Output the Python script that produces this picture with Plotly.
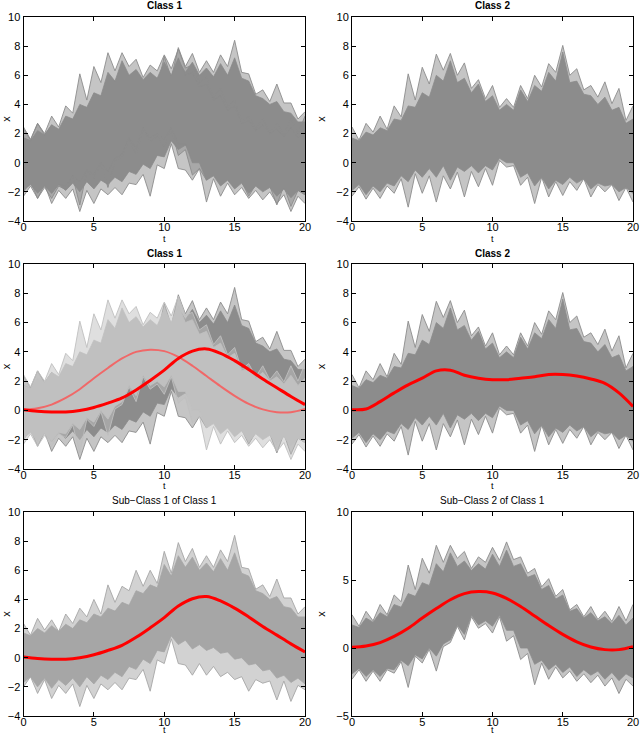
import plotly.graph_objects as go

# ── Data ─────────────────────────────────────────────────────────────────────
T = [0, 0.5, 1, 1.5, 2, 2.5, 3, 3.5, 4, 4.5, 5, 5.5, 6, 6.5, 7, 7.5, 8, 8.5, 9, 9.5,
     10, 10.5, 11, 11.5, 12, 12.5, 13, 13.5, 14, 14.5, 15, 15.5, 16, 16.5, 17, 17.5,
     18, 18.5, 19, 19.5, 20]
T_MEAN = [0, 1, 2, 3, 4, 5, 6, 7, 8, 9, 10, 11, 12, 13, 14, 15, 16, 17, 18, 19, 20]

# Sub-class 1 of class 1
SC1_UP_OUT = [2.35, 1.55, 2.7, 1.9, 2.6, 1.8, 3.0, 2.35, 3.4, 2.8, 4.0, 3.0, 5.0, 3.8, 4.9, 4.6,
              6.0, 4.9, 6.0, 5.1, 7.3, 5.8, 7.9, 6.6, 7.5, 6.2, 7.0, 6.2, 7.4, 6.6, 8.4, 6.2,
              6.1, 4.7, 5.0, 4.2, 5.4, 4.1, 4.1, 3.0, 3.5]
SC1_UP_CORE = [1.7, 1.5, 2.0, 1.7, 2.2, 1.8, 2.3, 2.0, 2.6, 2.4, 3.0, 2.8, 3.4, 3.2, 3.8, 3.6,
               4.6, 4.4, 5.0, 4.8, 6.4, 5.6, 7.0, 6.2, 6.9, 6.0, 6.5, 5.9, 6.8, 6.0, 7.2, 5.8,
               5.6, 4.6, 4.4, 4.0, 4.2, 3.5, 3.4, 2.8, 2.8]
SC1_LO_CORE = [-1.7, -1.3, -2.0, -1.4, -2.1, -1.5, -1.9, -1.4, -2.0, -1.3, -1.8, -1.2, -1.5, -1.0,
               -1.3, -0.6, -0.8, -0.1, -0.4, 0.5, 0.4, 1.5, 0.9, 1.2, 0.6, 0.9, 0.5, 0.7, 0.3,
               0.4, -0.1, 0.0, -0.5, -0.4, -0.9, -0.8, -1.4, -1.2, -1.7, -1.4, -1.8]
SC1_LO_OUT = [-2.0, -1.3, -2.45, -1.5, -2.8, -1.9, -2.45, -1.8, -3.35, -1.9, -2.8, -1.8, -2.2, -1.7,
              -2.2, -1.4, -1.5, -0.8, -2.3, -0.15, -0.4, 1.3, -0.4, -0.5, -1.2, -0.4, -1.2, -0.6,
              -1.3, -1.0, -1.5, -1.3, -2.3, -1.5, -1.75, -1.6, -2.9, -1.6, -3.0, -1.9, -2.2]
SC1_MEAN = [0.05, -0.05, -0.1, -0.1, 0.0, 0.2, 0.5, 0.85, 1.4, 2.05, 2.75, 3.55, 4.05, 4.2,
            3.9, 3.4, 2.8, 2.15, 1.55, 0.95, 0.4]

# Sub-class 2 of class 1
SC2_UP_OUT = [2.45, 1.6, 2.7, 2.0, 3.2, 2.45, 3.9, 3.4, 6.1, 4.3, 6.6, 5.5, 7.55, 6.3, 7.55, 6.6,
              7.1, 5.85, 6.7, 6.3, 7.4, 6.45, 7.8, 6.5, 6.7, 5.5, 5.85, 4.5, 5.1, 3.8, 4.3, 2.8,
              3.2, 2.3, 3.05, 2.1, 2.7, 1.95, 3.05, 2.0, 3.2]
SC2_UP_CORE = [1.7, 1.5, 2.2, 1.9, 2.6, 2.3, 3.2, 3.0, 4.0, 3.8, 4.8, 4.6, 6.2, 5.6, 7.0, 6.0,
               6.4, 5.7, 6.2, 5.8, 6.9, 6.0, 7.2, 6.0, 6.2, 5.2, 5.4, 4.3, 4.6, 3.6, 3.9, 2.7,
               2.9, 2.2, 2.6, 2.0, 2.3, 1.8, 2.4, 1.7, 2.2]
SC2_LO_CORE = [-1.9, -1.5, -2.1, -1.6, -2.1, -1.5, -1.6, -0.9, -1.3, -0.5, -0.8, 0.0, -0.6, 0.3,
               0.6, 1.7, 1.0, 2.4, 1.7, 2.0, 1.6, 2.4, 1.3, 1.3, 0.0, 0.0, -1.2, -0.9, -1.6,
               -1.2, -1.8, -1.4, -2.1, -1.6, -2.0, -1.7, -2.3, -1.8, -2.4, -1.9, -2.2]
SC2_LO_OUT = [-2.3, -1.6, -2.45, -1.7, -2.45, -1.6, -1.85, -1.0, -2.9, -0.6, -1.1, -0.1, -1.7, 0.1,
              0.4, 1.6, 0.6, 2.3, 1.45, 1.8, 1.1, 2.3, 0.5, 0.9, -0.85, -0.4, -2.7, -1.1, -2.3,
              -1.4, -2.2, -1.7, -2.45, -1.9, -2.55, -2.0, -2.8, -2.2, -3.35, -2.3, -2.8]
SC2_MEAN = [0.05, 0.15, 0.4, 0.85, 1.45, 2.2, 2.9, 3.55, 4.0, 4.15, 4.05, 3.65, 3.05, 2.35,
            1.65, 1.0, 0.45, 0.07, -0.12, -0.12, 0.1]

# Class 2
C2_UP_OUT = [2.45, 1.55, 2.7, 2.1, 3.2, 2.3, 3.9, 3.15, 6.1, 4.3, 6.55, 5.4, 7.45, 6.35, 7.5, 6.0,
             6.85, 5.1, 5.7, 4.4, 5.3, 3.8, 4.4, 3.8, 5.3, 4.4, 6.0, 5.2, 6.8, 6.2, 8.05, 6.0,
             6.45, 5.0, 5.3, 4.5, 5.55, 4.05, 5.1, 2.9, 3.9]
C2_UP_CORE = [1.7, 1.5, 2.1, 1.9, 2.4, 2.2, 3.0, 2.9, 3.9, 3.8, 4.8, 4.5, 6.0, 5.6, 7.0, 5.5,
              5.8, 4.8, 5.4, 4.2, 4.6, 3.6, 4.0, 3.6, 5.0, 4.2, 5.3, 4.9, 6.2, 5.6, 7.6, 5.5,
              5.6, 4.7, 4.6, 4.0, 4.5, 3.6, 3.8, 2.7, 3.0]
C2_LO_CORE = [-1.9, -1.5, -2.2, -1.6, -2.0, -1.4, -1.6, -0.9, -1.3, -0.5, -1.0, -0.4, -1.0, -0.2,
              -1.2, -0.3, -0.6, -0.2, -0.7, -0.2, -0.5, 0.3, 0.0, 0.0, -1.0, -0.7, -1.6, -1.0,
              -1.8, -1.2, -1.5, -1.0, -1.4, -1.1, -1.8, -1.4, -1.6, -1.5, -2.0, -1.7, -2.1]
C2_LO_OUT = [-2.3, -1.65, -2.5, -1.75, -2.45, -1.6, -2.1, -1.1, -3.05, -0.75, -2.1, -0.9, -2.7, -0.9,
             -1.8, -0.65, -2.35, -0.6, -1.65, -0.4, -1.55, 0.15, -0.3, -0.2, -1.55, -1.0, -2.8,
             -1.0, -2.35, -1.3, -2.25, -1.3, -1.9, -1.1, -2.35, -1.5, -2.0, -1.5, -2.6, -1.7, -2.7]
C2_MEAN = [0.05, 0.1, 0.6, 1.2, 1.75, 2.2, 2.7, 2.75, 2.4, 2.2, 2.1, 2.1, 2.2, 2.3, 2.45, 2.45,
           2.35, 2.15, 1.85, 1.2, 0.27]

TITLES = ["Class 1", "Class 2", "Class 1", "Class 2",
          "Sub\u2212Class 1 of Class 1", "Sub\u2212Class 2 of Class 1"]

# ── Style ────────────────────────────────────────────────────────────────────
GRAY = (140, 140, 140)
LIGHT = (192, 192, 192)
MID = (166, 166, 166)
RED = "#ff0000"
SALMON = "#f06868"
FONT = "Liberation Sans"

W, H = 640, 735
XDOM = {"L": [23.5 / W, 305 / W], "R": [352 / W, 633 / W]}
YDOM = {0: [1 - 221 / H, 1 - 17 / H], 1: [1 - 469 / H, 1 - 264 / H], 2: [1 - 716 / H, 1 - 512 / H]}

fig = go.Figure()


def rgb(c, a=1.0):
    return f"rgba({c[0]},{c[1]},{c[2]},{a})"


def ax(n):
    return ("x", "y") if n == 1 else (f"x{n}", f"y{n}")


def add_group(n, up_core, lo_core, up_out, lo_out, color):
    xa, ya = ax(n)
    # sparse fringe of outlying curves: translucent band up to the outer envelope
    fig.add_trace(go.Scatter(
        x=T + T[::-1], y=up_out + lo_out[::-1], mode="lines",
        fill="toself", fillcolor=rgb(color, 0.5), line=dict(width=0),
        xaxis=xa, yaxis=ya, hoverinfo="skip"))
    # dense core
    fig.add_trace(go.Scatter(
        x=T + T[::-1], y=up_core + lo_core[::-1], mode="lines",
        fill="toself", fillcolor=rgb(color), line=dict(color=rgb(color), width=0.8),
        xaxis=xa, yaxis=ya, hoverinfo="skip"))
    for arr in (up_out, lo_out):
        fig.add_trace(go.Scatter(
            x=T, y=arr, mode="lines", line=dict(color=rgb(color), width=0.9),
            xaxis=xa, yaxis=ya, hoverinfo="skip"))


def add_mean(n, arr, color, width):
    xa, ya = ax(n)
    fig.add_trace(go.Scatter(
        x=T_MEAN, y=arr, mode="lines", line=dict(color=color, width=width, shape="spline"),
        xaxis=xa, yaxis=ya, hoverinfo="skip"))


# Panel 1: class 1 (both sub-classes, same gray)
add_group(1, SC1_UP_CORE, SC1_LO_CORE, SC1_UP_OUT, SC1_LO_OUT, GRAY)
add_group(1, SC2_UP_CORE, SC2_LO_CORE, SC2_UP_OUT, SC2_LO_OUT, GRAY)
# Panel 2: class 2
add_group(2, C2_UP_CORE, C2_LO_CORE, C2_UP_OUT, C2_LO_OUT, GRAY)
# Panel 3: class 1 split into sub-classes
add_group(3, SC1_UP_CORE, SC1_LO_CORE, SC1_UP_OUT, SC1_LO_OUT, GRAY)
add_group(3, SC2_UP_CORE, SC2_LO_CORE, SC2_UP_OUT, SC2_LO_OUT, LIGHT)
add_mean(3, SC2_MEAN, SALMON, 2)
add_mean(3, SC1_MEAN, RED, 3)
# Panel 4: class 2 with mean
add_group(4, C2_UP_CORE, C2_LO_CORE, C2_UP_OUT, C2_LO_OUT, GRAY)
add_mean(4, C2_MEAN, RED, 3)
# Panel 5: sub-class 1
add_group(5, SC1_UP_CORE, SC1_LO_CORE, SC1_UP_OUT, SC1_LO_OUT, MID)
add_mean(5, SC1_MEAN, RED, 3)
# Panel 6: sub-class 2
add_group(6, SC2_UP_CORE, SC2_LO_CORE, SC2_UP_OUT, SC2_LO_OUT, GRAY)
add_mean(6, SC2_MEAN, RED, 3)

# ── Axes ─────────────────────────────────────────────────────────────────────
layout = {}
for n in range(1, 7):
    row = (n - 1) // 2
    side = "L" if n % 2 == 1 else "R"
    xa, ya = ax(n)
    xkey = "xaxis" if n == 1 else f"xaxis{n}"
    ykey = "yaxis" if n == 1 else f"yaxis{n}"
    if n == 6:
        yrange, yticks = [-5, 10], [-5, 0, 5, 10]
    else:
        yrange, yticks = [-4, 10], [-4, -2, 0, 2, 4, 6, 8, 10]
    common = dict(showline=True, linecolor="black", linewidth=1, mirror="ticks",
                  ticks="inside", ticklen=4, tickcolor="black", showgrid=False,
                  zeroline=False, automargin=False, ticklabeloverflow="allow",
                  tickfont=dict(family=FONT, size=11, color="black"))
    layout[xkey] = dict(domain=XDOM[side], anchor=ya, range=[0, 20],
                        tickvals=[0, 5, 10, 15, 20], ticklabelstandoff=-4, **common)
    layout[ykey] = dict(domain=YDOM[row], anchor=xa, range=yrange, tickvals=yticks,
                        title=dict(text="x", standoff=8, font=dict(family=FONT, size=11)),
                        **common)

fig.update_layout(**layout)

title_y = {0: 1 - 6 / H, 1: 1 - 253 / H, 2: 1 - 501 / H}
t_label_y = {0: 1 - 239 / H, 1: 1 - 486 / H, 2: 1 - 730 / H}
for i, txt in enumerate(TITLES):
    row = i // 2
    xd = XDOM["L" if i % 2 == 0 else "R"]
    xc = (xd[0] + xd[1]) / 2
    fig.add_annotation(
        x=xc, y=title_y[row], xref="paper", yref="paper",
        text=f"<b>{txt}</b>" if row < 2 else txt, showarrow=False,
        font=dict(family=FONT, size=10, color="black"),
        xanchor="center", yanchor="middle")
    fig.add_annotation(
        x=xc, y=t_label_y[row], xref="paper", yref="paper", text="t", showarrow=False,
        font=dict(family=FONT, size=9, color="black"),
        xanchor="center", yanchor="middle")

fig.update_layout(
    width=W, height=H, margin=dict(l=0, r=0, t=0, b=0),
    template="simple_white", showlegend=False,
    paper_bgcolor="white", plot_bgcolor="white",
    font=dict(family=FONT, size=11, color="black"),
)

fig.write_html("out.html", config={"displayModeBar": False},
               post_script="document.body.style.margin='0';")
